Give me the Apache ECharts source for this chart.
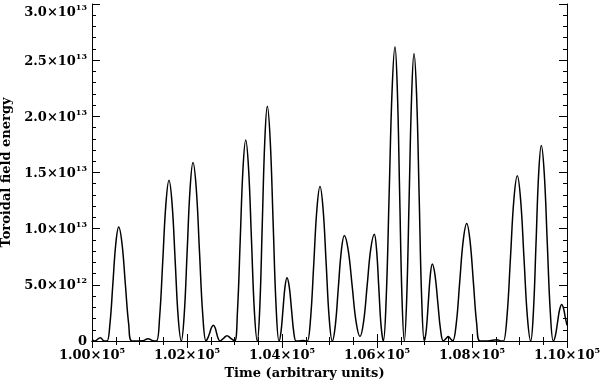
<!DOCTYPE html>
<html>
<head>
<meta charset="utf-8">
<script src="https://cdn.jsdelivr.net/npm/echarts@6/dist/echarts.min.js"></script>
<style>html,body{margin:0;padding:0;background:#fff;}#c{width:602px;height:385px;}</style>
</head>
<body>
<div id="c"></div>
<script>
// Time values (arbitrary units)
const times = [
100000,100057,100175,100259,100316,100377,100439,100501,100562,100632,100702,100773,100842,
101074,101179,101284,101358,101423,101490,101556,101621,101686,101751,101815,101880,
101941,102003,102065,102126,102195,102263,102332,102400,
102442,102476,102516,102554,102590,102623,102659,102695,102768,102842,102922,103004,
103062,103120,103178,103236,103297,103358,103419,103480,
103533,103585,103638,103691,103752,103814,103876,103937,
103979,104021,104063,104105,104153,104200,104247,104295,104337,104442,104516,104537,
104602,104669,104735,104800,104865,104930,104994,105059,
105122,105185,105249,105312,105394,105477,105560,105642,
105718,105793,105868,105943,105991,106038,106085,106133,
106194,106256,106318,106379,106428,106477,106526,106575,
106625,106677,106729,106779,106834,106888,106941,106996,
107038,107080,107122,107164,107222,107280,107338,107396,
107449,107501,107547,107594,
107668,107741,107815,107889,107958,108029,108099,108169,108337,108520,108632,108663,
108736,108809,108881,108954,109024,109095,109166,109236,
109292,109348,109403,109459,109522,109585,109649,109712,
109756,109800,109844,109889,109927,109964,110000
];
// Toroidal field energy, in units of 1e13
const energy = [
0.012,0.0,0.030,0.0,0.0,0.148,0.507,0.866,1.014,0.866,0.507,0.148,0.0,
0.003,0.020,0.002,0.0,0.209,0.715,1.221,1.430,1.221,0.715,0.209,0.0,
0.232,0.795,1.358,1.590,1.358,0.795,0.232,0.0,
0.030,0.070,0.120,0.140,0.120,0.070,0.020,0.0,0.024,0.047,0.024,0.0,
0.261,0.895,1.529,1.790,1.529,0.895,0.261,0.0,
0.305,1.045,1.785,2.090,1.785,1.045,0.305,0.0,
0.082,0.282,0.481,0.563,0.481,0.282,0.082,0.0,0.0,0.004,0.0,0.0,
0.201,0.688,1.175,1.376,1.175,0.688,0.201,0.0,
0.137,0.470,0.803,0.940,0.809,0.490,0.170,0.040,
0.173,0.495,0.817,0.950,0.811,0.475,0.139,0.0,
0.383,1.310,2.237,2.620,2.237,1.310,0.383,0.0,
0.374,1.280,2.186,2.560,2.186,1.280,0.374,0.0,
0.100,0.343,0.585,0.685,0.585,0.343,0.100,0.0,
0.020,0.040,0.020,0.0,
0.153,0.524,0.894,1.047,0.894,0.524,0.153,0.0,0.0,0.012,0.0,0.0,
0.215,0.735,1.255,1.470,1.255,0.735,0.215,0.0,
0.254,0.870,1.486,1.740,1.486,0.870,0.254,0.0,
0.048,0.163,0.278,0.326,0.290,0.210,0.140
];
const ENERGY_UNIT = 1e13;

const xTicks = [100000,102000,104000,106000,108000,110000];
const xTickLabels = ['1.00×10^5','1.02×10^5','1.04×10^5','1.06×10^5','1.08×10^5','1.10×10^5'];
const yTicks = [0,0.5,1.0,1.5,2.0,2.5,3.0];
const yTickLabels = ['0','5.0×10^12','1.0×10^13','1.5×10^13','2.0×10^13','2.5×10^13','3.0×10^13'];
const xTitle = 'Time (arbitrary units)';
const yTitle = 'Toroidal field energy';

const FONT = 'DejaVu Serif';
function toRich(s){ return s.replace(/\^(\d+)/, '{s|$1}').replace(/^([^{]+)/, '{b|$1}'); }
function lookup(ticks, labels, v){
  for (let i=0;i<ticks.length;i++){ if (Math.abs(ticks[i]-v) < 1e-6*Math.max(1,Math.abs(v))) return toRich(labels[i]); }
  return '';
}
const rich = {
  b: {fontFamily: FONT, fontWeight: 'bold', fontSize: 13, color: '#000', lineHeight: 15, verticalAlign: 'bottom'},
  s: {fontFamily: FONT, fontWeight: 'bold', fontSize: 8, color: '#000', lineHeight: 15, verticalAlign: 'top'}
};

const seriesData = times.map((t,i)=>[t, energy[i]*ENERGY_UNIT]);

const chart = echarts.init(document.getElementById('c'), null, {renderer:'canvas'});
const axisLine = {show:true, lineStyle:{color:'#000', width:1}};
const nameStyle = {fontFamily: FONT, fontWeight:'bold', fontSize:13, color:'#000'};
chart.setOption({
  animation:false,
  backgroundColor:'#fff',
  grid:{left:92, right:35, top:4, bottom:44, outerBoundsMode:'none', containLabel:false},
  xAxis:[{
    type:'value', min:100000, max:110000, interval:2000, position:'bottom',
    axisLine, splitLine:{show:false},
    axisTick:{show:true, inside:true, length:7, lineStyle:{color:'#000'}},
    minorTick:{show:true, splitNumber:4, length:4, lineStyle:{color:'#000'}},
    axisLabel:{margin:6, formatter:v=>lookup(xTicks, xTickLabels, v), rich},
    name:xTitle, nameLocation:'middle', nameGap:26,
    nameTextStyle:Object.assign({padding:[0,50,0,0]}, nameStyle)
  },{
    type:'value', min:100000, max:110000, interval:2000, position:'top',
    axisLine, splitLine:{show:false},
    axisTick:{show:true, inside:true, length:7, lineStyle:{color:'#000'}},
    minorTick:{show:true, splitNumber:4, length:4, lineStyle:{color:'#000'}},
    axisLabel:{show:false}
  }],
  yAxis:[{
    type:'value', min:0, max:3*ENERGY_UNIT, interval:0.5*ENERGY_UNIT, position:'left',
    axisLine, splitLine:{show:false},
    axisTick:{show:true, inside:true, length:8, lineStyle:{color:'#000'}},
    minorTick:{show:true, splitNumber:5, length:4, lineStyle:{color:'#000'}},
    axisLabel:{margin:5, verticalAlignMaxLabel:'top', formatter:v=>lookup(yTicks, yTickLabels, v/ENERGY_UNIT), rich},
    name:yTitle, nameLocation:'middle', nameRotate:90, nameGap:77,
    nameTextStyle:nameStyle
  },{
    type:'value', min:0, max:3*ENERGY_UNIT, interval:0.5*ENERGY_UNIT, position:'right',
    axisLine, splitLine:{show:false},
    axisTick:{show:true, inside:true, length:8, lineStyle:{color:'#000'}},
    minorTick:{show:true, splitNumber:5, length:4, lineStyle:{color:'#000'}},
    axisLabel:{show:false}
  }],
  series:[{
    type:'line', data:seriesData, showSymbol:false, smooth:0.4,
    lineStyle:{color:'#000', width:1.5}, xAxisIndex:0, yAxisIndex:0
  }]
});
</script>
</body>
</html>
